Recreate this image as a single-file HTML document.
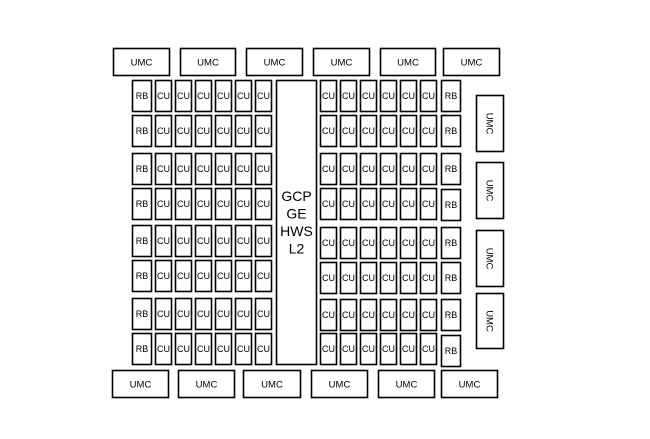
<!DOCTYPE html>
<html><head><meta charset="utf-8"><style>
html,body{margin:0;padding:0;background:#fff;width:650px;height:439px;overflow:hidden}
svg{display:block}
text{font-family:"Liberation Sans",sans-serif;fill:#000}
.b{fill:#fff;stroke:#000;stroke-width:1.6}
.s{font-size:9px}
.m{font-size:9.5px}
</style></head><body>
<svg width="650" height="439" viewBox="0 0 650 439" xmlns="http://www.w3.org/2000/svg">
<g id="top">
<rect class="b" x="113.5" y="48.5" width="56" height="27"/><text class="m" x="141.5" y="65.5" text-anchor="middle">UMC</text>
<rect class="b" x="180.5" y="48.5" width="55" height="27"/><text class="m" x="208" y="65.5" text-anchor="middle">UMC</text>
<rect class="b" x="246.5" y="48.5" width="56" height="27"/><text class="m" x="274.5" y="65.5" text-anchor="middle">UMC</text>
<rect class="b" x="313.5" y="48.5" width="56" height="27"/><text class="m" x="341.5" y="65.5" text-anchor="middle">UMC</text>
<rect class="b" x="380.5" y="48.5" width="55" height="27"/><text class="m" x="408" y="65.5" text-anchor="middle">UMC</text>
<rect class="b" x="443.5" y="48.5" width="56" height="27"/><text class="m" x="471.5" y="65.5" text-anchor="middle">UMC</text>
</g>
<g id="bottom">
<rect class="b" x="112.5" y="370.5" width="56" height="27"/><text class="m" x="140.5" y="387.5" text-anchor="middle">UMC</text>
<rect class="b" x="178.5" y="370.5" width="56" height="27"/><text class="m" x="206.5" y="387.5" text-anchor="middle">UMC</text>
<rect class="b" x="243.5" y="370.5" width="57" height="27"/><text class="m" x="272" y="387.5" text-anchor="middle">UMC</text>
<rect class="b" x="311.5" y="370.5" width="56" height="27"/><text class="m" x="339.5" y="387.5" text-anchor="middle">UMC</text>
<rect class="b" x="378.5" y="370.5" width="56" height="27"/><text class="m" x="406.5" y="387.5" text-anchor="middle">UMC</text>
<rect class="b" x="441.5" y="370.5" width="56" height="27"/><text class="m" x="469.5" y="387.5" text-anchor="middle">UMC</text>
</g>
<g id="right">
<rect class="b" x="476.5" y="95.5" width="27" height="56"/><text class="m" transform="translate(486.5,123.5) rotate(90)" text-anchor="middle">UMC</text>
<rect class="b" x="476.5" y="162.5" width="27" height="56"/><text class="m" transform="translate(486.5,190.5) rotate(90)" text-anchor="middle">UMC</text>
<rect class="b" x="476.5" y="230.5" width="27" height="56"/><text class="m" transform="translate(486.5,258.5) rotate(90)" text-anchor="middle">UMC</text>
<rect class="b" x="476.5" y="293.5" width="27" height="55"/><text class="m" transform="translate(486.5,321) rotate(90)" text-anchor="middle">UMC</text>
</g>
<rect class="b" x="276.5" y="80.5" width="40" height="284"/>
<text x="296.5" y="201" font-size="14" text-anchor="middle">GCP</text>
<text x="296.5" y="218.5" font-size="14" text-anchor="middle">GE</text>
<text x="296.5" y="236" font-size="14" text-anchor="middle">HWS</text>
<text x="296.5" y="253.5" font-size="14" text-anchor="middle">L2</text>

<!-- row 1 y=80 -->
<g transform="translate(0,80)">
<rect class="b" x="132.5" y=".5" width="19" height="31"/><text class="s" x="142" y="19" text-anchor="middle">RB</text>
<rect class="b" x="155.5" y=".5" width="16" height="31"/><text class="s" x="163.5" y="19" text-anchor="middle">CU</text>
<rect class="b" x="175.5" y=".5" width="16" height="31"/><text class="s" x="183.5" y="19" text-anchor="middle">CU</text>
<rect class="b" x="195.5" y=".5" width="16" height="31"/><text class="s" x="203.5" y="19" text-anchor="middle">CU</text>
<rect class="b" x="215.5" y=".5" width="16" height="31"/><text class="s" x="223.5" y="19" text-anchor="middle">CU</text>
<rect class="b" x="235.5" y=".5" width="16" height="31"/><text class="s" x="243.5" y="19" text-anchor="middle">CU</text>
<rect class="b" x="255.5" y=".5" width="16" height="31"/><text class="s" x="263.5" y="19" text-anchor="middle">CU</text>
<rect class="b" x="320.5" y=".5" width="16" height="31"/><text class="s" x="328.5" y="19" text-anchor="middle">CU</text>
<rect class="b" x="340.5" y=".5" width="16" height="31"/><text class="s" x="348.5" y="19" text-anchor="middle">CU</text>
<rect class="b" x="360.5" y=".5" width="16" height="31"/><text class="s" x="368.5" y="19" text-anchor="middle">CU</text>
<rect class="b" x="380.5" y=".5" width="16" height="31"/><text class="s" x="388.5" y="19" text-anchor="middle">CU</text>
<rect class="b" x="400.5" y=".5" width="16" height="31"/><text class="s" x="408.5" y="19" text-anchor="middle">CU</text>
<rect class="b" x="420.5" y=".5" width="16" height="31"/><text class="s" x="428.5" y="19" text-anchor="middle">CU</text>
<rect class="b" x="441.5" y=".5" width="19" height="31"/><text class="s" x="451" y="19" text-anchor="middle">RB</text>
</g>
<g transform="translate(0,115)">
<rect class="b" x="132.5" y=".5" width="19" height="31"/><text class="s" x="142" y="19" text-anchor="middle">RB</text>
<rect class="b" x="155.5" y=".5" width="16" height="31"/><text class="s" x="163.5" y="19" text-anchor="middle">CU</text>
<rect class="b" x="175.5" y=".5" width="16" height="31"/><text class="s" x="183.5" y="19" text-anchor="middle">CU</text>
<rect class="b" x="195.5" y=".5" width="16" height="31"/><text class="s" x="203.5" y="19" text-anchor="middle">CU</text>
<rect class="b" x="215.5" y=".5" width="16" height="31"/><text class="s" x="223.5" y="19" text-anchor="middle">CU</text>
<rect class="b" x="235.5" y=".5" width="16" height="31"/><text class="s" x="243.5" y="19" text-anchor="middle">CU</text>
<rect class="b" x="255.5" y=".5" width="16" height="31"/><text class="s" x="263.5" y="19" text-anchor="middle">CU</text>
<rect class="b" x="320.5" y=".5" width="16" height="31"/><text class="s" x="328.5" y="19" text-anchor="middle">CU</text>
<rect class="b" x="340.5" y=".5" width="16" height="31"/><text class="s" x="348.5" y="19" text-anchor="middle">CU</text>
<rect class="b" x="360.5" y=".5" width="16" height="31"/><text class="s" x="368.5" y="19" text-anchor="middle">CU</text>
<rect class="b" x="380.5" y=".5" width="16" height="31"/><text class="s" x="388.5" y="19" text-anchor="middle">CU</text>
<rect class="b" x="400.5" y=".5" width="16" height="31"/><text class="s" x="408.5" y="19" text-anchor="middle">CU</text>
<rect class="b" x="420.5" y=".5" width="16" height="31"/><text class="s" x="428.5" y="19" text-anchor="middle">CU</text>
<rect class="b" x="441.5" y=".5" width="19" height="31"/><text class="s" x="451" y="19" text-anchor="middle">RB</text>
</g>
<g transform="translate(0,153)">
<rect class="b" x="132.5" y=".5" width="19" height="31"/><text class="s" x="142" y="19" text-anchor="middle">RB</text>
<rect class="b" x="155.5" y=".5" width="16" height="31"/><text class="s" x="163.5" y="19" text-anchor="middle">CU</text>
<rect class="b" x="175.5" y=".5" width="16" height="31"/><text class="s" x="183.5" y="19" text-anchor="middle">CU</text>
<rect class="b" x="195.5" y=".5" width="16" height="31"/><text class="s" x="203.5" y="19" text-anchor="middle">CU</text>
<rect class="b" x="215.5" y=".5" width="16" height="31"/><text class="s" x="223.5" y="19" text-anchor="middle">CU</text>
<rect class="b" x="235.5" y=".5" width="16" height="31"/><text class="s" x="243.5" y="19" text-anchor="middle">CU</text>
<rect class="b" x="255.5" y=".5" width="16" height="31"/><text class="s" x="263.5" y="19" text-anchor="middle">CU</text>
<rect class="b" x="320.5" y=".5" width="16" height="31"/><text class="s" x="328.5" y="19" text-anchor="middle">CU</text>
<rect class="b" x="340.5" y=".5" width="16" height="31"/><text class="s" x="348.5" y="19" text-anchor="middle">CU</text>
<rect class="b" x="360.5" y=".5" width="16" height="31"/><text class="s" x="368.5" y="19" text-anchor="middle">CU</text>
<rect class="b" x="380.5" y=".5" width="16" height="31"/><text class="s" x="388.5" y="19" text-anchor="middle">CU</text>
<rect class="b" x="400.5" y=".5" width="16" height="31"/><text class="s" x="408.5" y="19" text-anchor="middle">CU</text>
<rect class="b" x="420.5" y=".5" width="16" height="31"/><text class="s" x="428.5" y="19" text-anchor="middle">CU</text>
<rect class="b" x="441.5" y=".5" width="19" height="31"/><text class="s" x="451" y="19" text-anchor="middle">RB</text>
</g>
<g transform="translate(0,188)">
<rect class="b" x="132.5" y=".5" width="19" height="31"/><text class="s" x="142" y="19" text-anchor="middle">RB</text>
<rect class="b" x="155.5" y=".5" width="16" height="31"/><text class="s" x="163.5" y="19" text-anchor="middle">CU</text>
<rect class="b" x="175.5" y=".5" width="16" height="31"/><text class="s" x="183.5" y="19" text-anchor="middle">CU</text>
<rect class="b" x="195.5" y=".5" width="16" height="31"/><text class="s" x="203.5" y="19" text-anchor="middle">CU</text>
<rect class="b" x="215.5" y=".5" width="16" height="31"/><text class="s" x="223.5" y="19" text-anchor="middle">CU</text>
<rect class="b" x="235.5" y=".5" width="16" height="31"/><text class="s" x="243.5" y="19" text-anchor="middle">CU</text>
<rect class="b" x="255.5" y=".5" width="16" height="31"/><text class="s" x="263.5" y="19" text-anchor="middle">CU</text>
<rect class="b" x="320.5" y=".5" width="16" height="31"/><text class="s" x="328.5" y="19" text-anchor="middle">CU</text>
<rect class="b" x="340.5" y=".5" width="16" height="31"/><text class="s" x="348.5" y="19" text-anchor="middle">CU</text>
<rect class="b" x="360.5" y=".5" width="16" height="31"/><text class="s" x="368.5" y="19" text-anchor="middle">CU</text>
<rect class="b" x="380.5" y=".5" width="16" height="31"/><text class="s" x="388.5" y="19" text-anchor="middle">CU</text>
<rect class="b" x="400.5" y=".5" width="16" height="31"/><text class="s" x="408.5" y="19" text-anchor="middle">CU</text>
<rect class="b" x="420.5" y=".5" width="16" height="31"/><text class="s" x="428.5" y="19" text-anchor="middle">CU</text>
<rect class="b" x="441.5" y="1.5" width="19" height="31"/><text class="s" x="451" y="20" text-anchor="middle">RB</text>
</g>
<g transform="translate(0,225)">
<rect class="b" x="132.5" y=".5" width="19" height="31"/><text class="s" x="142" y="19" text-anchor="middle">RB</text>
<rect class="b" x="155.5" y=".5" width="16" height="31"/><text class="s" x="163.5" y="19" text-anchor="middle">CU</text>
<rect class="b" x="175.5" y=".5" width="16" height="31"/><text class="s" x="183.5" y="19" text-anchor="middle">CU</text>
<rect class="b" x="195.5" y=".5" width="16" height="31"/><text class="s" x="203.5" y="19" text-anchor="middle">CU</text>
<rect class="b" x="215.5" y=".5" width="16" height="31"/><text class="s" x="223.5" y="19" text-anchor="middle">CU</text>
<rect class="b" x="235.5" y=".5" width="16" height="31"/><text class="s" x="243.5" y="19" text-anchor="middle">CU</text>
<rect class="b" x="255.5" y=".5" width="16" height="31"/><text class="s" x="263.5" y="19" text-anchor="middle">CU</text>
<rect class="b" x="320.5" y="2.5" width="16" height="31"/><text class="s" x="328.5" y="21" text-anchor="middle">CU</text>
<rect class="b" x="340.5" y="2.5" width="16" height="31"/><text class="s" x="348.5" y="21" text-anchor="middle">CU</text>
<rect class="b" x="360.5" y="2.5" width="16" height="31"/><text class="s" x="368.5" y="21" text-anchor="middle">CU</text>
<rect class="b" x="380.5" y="2.5" width="16" height="31"/><text class="s" x="388.5" y="21" text-anchor="middle">CU</text>
<rect class="b" x="400.5" y="2.5" width="16" height="31"/><text class="s" x="408.5" y="21" text-anchor="middle">CU</text>
<rect class="b" x="420.5" y="2.5" width="16" height="31"/><text class="s" x="428.5" y="21" text-anchor="middle">CU</text>
<rect class="b" x="441.5" y="2.5" width="19" height="31"/><text class="s" x="451" y="21" text-anchor="middle">RB</text>
</g>
<g transform="translate(0,260)">
<rect class="b" x="132.5" y=".5" width="19" height="31"/><text class="s" x="142" y="19" text-anchor="middle">RB</text>
<rect class="b" x="155.5" y=".5" width="16" height="31"/><text class="s" x="163.5" y="19" text-anchor="middle">CU</text>
<rect class="b" x="175.5" y=".5" width="16" height="31"/><text class="s" x="183.5" y="19" text-anchor="middle">CU</text>
<rect class="b" x="195.5" y=".5" width="16" height="31"/><text class="s" x="203.5" y="19" text-anchor="middle">CU</text>
<rect class="b" x="215.5" y=".5" width="16" height="31"/><text class="s" x="223.5" y="19" text-anchor="middle">CU</text>
<rect class="b" x="235.5" y=".5" width="16" height="31"/><text class="s" x="243.5" y="19" text-anchor="middle">CU</text>
<rect class="b" x="255.5" y=".5" width="16" height="31"/><text class="s" x="263.5" y="19" text-anchor="middle">CU</text>
<rect class="b" x="320.5" y="2.5" width="16" height="31"/><text class="s" x="328.5" y="21" text-anchor="middle">CU</text>
<rect class="b" x="340.5" y="2.5" width="16" height="31"/><text class="s" x="348.5" y="21" text-anchor="middle">CU</text>
<rect class="b" x="360.5" y="2.5" width="16" height="31"/><text class="s" x="368.5" y="21" text-anchor="middle">CU</text>
<rect class="b" x="380.5" y="2.5" width="16" height="31"/><text class="s" x="388.5" y="21" text-anchor="middle">CU</text>
<rect class="b" x="400.5" y="2.5" width="16" height="31"/><text class="s" x="408.5" y="21" text-anchor="middle">CU</text>
<rect class="b" x="420.5" y="2.5" width="16" height="31"/><text class="s" x="428.5" y="21" text-anchor="middle">CU</text>
<rect class="b" x="441.5" y="2.5" width="19" height="31"/><text class="s" x="451" y="21" text-anchor="middle">RB</text>
</g>
<g transform="translate(0,298)">
<rect class="b" x="132.5" y=".5" width="19" height="31"/><text class="s" x="142" y="19" text-anchor="middle">RB</text>
<rect class="b" x="155.5" y=".5" width="16" height="31"/><text class="s" x="163.5" y="19" text-anchor="middle">CU</text>
<rect class="b" x="175.5" y=".5" width="16" height="31"/><text class="s" x="183.5" y="19" text-anchor="middle">CU</text>
<rect class="b" x="195.5" y=".5" width="16" height="31"/><text class="s" x="203.5" y="19" text-anchor="middle">CU</text>
<rect class="b" x="215.5" y=".5" width="16" height="31"/><text class="s" x="223.5" y="19" text-anchor="middle">CU</text>
<rect class="b" x="235.5" y=".5" width="16" height="31"/><text class="s" x="243.5" y="19" text-anchor="middle">CU</text>
<rect class="b" x="255.5" y=".5" width="16" height="31"/><text class="s" x="263.5" y="19" text-anchor="middle">CU</text>
<rect class="b" x="320.5" y="1.5" width="16" height="31"/><text class="s" x="328.5" y="20" text-anchor="middle">CU</text>
<rect class="b" x="340.5" y="1.5" width="16" height="31"/><text class="s" x="348.5" y="20" text-anchor="middle">CU</text>
<rect class="b" x="360.5" y="1.5" width="16" height="31"/><text class="s" x="368.5" y="20" text-anchor="middle">CU</text>
<rect class="b" x="380.5" y="1.5" width="16" height="31"/><text class="s" x="388.5" y="20" text-anchor="middle">CU</text>
<rect class="b" x="400.5" y="1.5" width="16" height="31"/><text class="s" x="408.5" y="20" text-anchor="middle">CU</text>
<rect class="b" x="420.5" y="1.5" width="16" height="31"/><text class="s" x="428.5" y="20" text-anchor="middle">CU</text>
<rect class="b" x="441.5" y="1.5" width="19" height="31"/><text class="s" x="451" y="20" text-anchor="middle">RB</text>
</g>
<g transform="translate(0,333)">
<rect class="b" x="132.5" y=".5" width="19" height="31"/><text class="s" x="142" y="19" text-anchor="middle">RB</text>
<rect class="b" x="155.5" y=".5" width="16" height="31"/><text class="s" x="163.5" y="19" text-anchor="middle">CU</text>
<rect class="b" x="175.5" y=".5" width="16" height="31"/><text class="s" x="183.5" y="19" text-anchor="middle">CU</text>
<rect class="b" x="195.5" y=".5" width="16" height="31"/><text class="s" x="203.5" y="19" text-anchor="middle">CU</text>
<rect class="b" x="215.5" y=".5" width="16" height="31"/><text class="s" x="223.5" y="19" text-anchor="middle">CU</text>
<rect class="b" x="235.5" y=".5" width="16" height="31"/><text class="s" x="243.5" y="19" text-anchor="middle">CU</text>
<rect class="b" x="255.5" y=".5" width="16" height="31"/><text class="s" x="263.5" y="19" text-anchor="middle">CU</text>
<rect class="b" x="320.5" y=".5" width="16" height="31"/><text class="s" x="328.5" y="19" text-anchor="middle">CU</text>
<rect class="b" x="340.5" y=".5" width="16" height="31"/><text class="s" x="348.5" y="19" text-anchor="middle">CU</text>
<rect class="b" x="360.5" y=".5" width="16" height="31"/><text class="s" x="368.5" y="19" text-anchor="middle">CU</text>
<rect class="b" x="380.5" y=".5" width="16" height="31"/><text class="s" x="388.5" y="19" text-anchor="middle">CU</text>
<rect class="b" x="400.5" y=".5" width="16" height="31"/><text class="s" x="408.5" y="19" text-anchor="middle">CU</text>
<rect class="b" x="420.5" y=".5" width="16" height="31"/><text class="s" x="428.5" y="19" text-anchor="middle">CU</text>
<rect class="b" x="441.5" y="2.5" width="19" height="31"/><text class="s" x="451" y="21" text-anchor="middle">RB</text>
</g>
</svg>
</body></html>
